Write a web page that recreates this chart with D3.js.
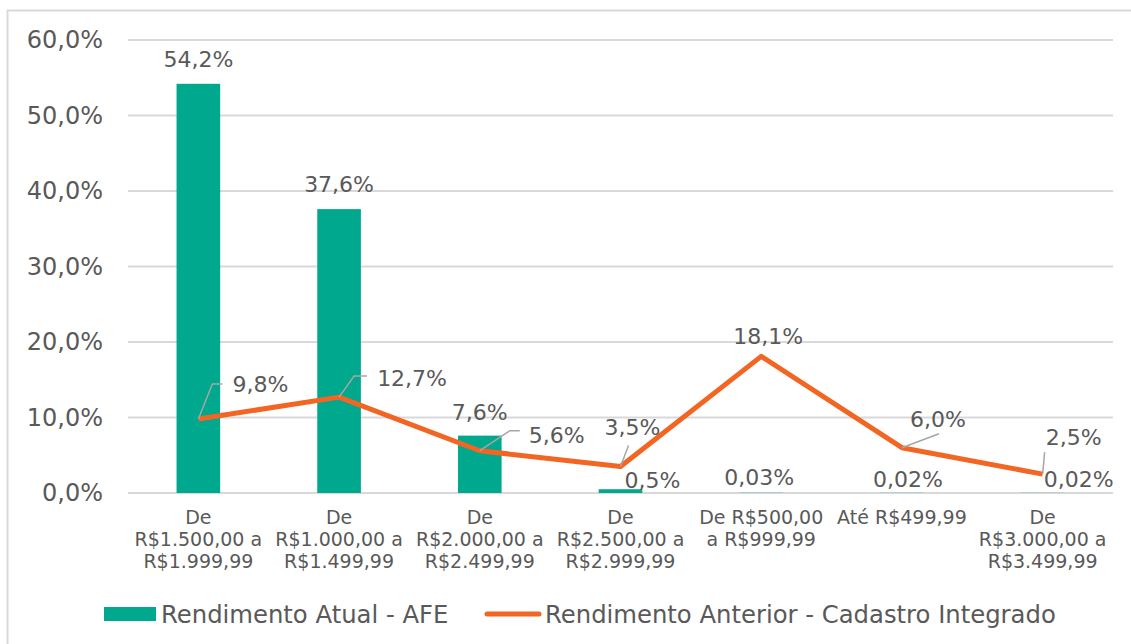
<!DOCTYPE html>
<html>
<head>
<meta charset="utf-8">
<script src="https://cdn.jsdelivr.net/npm/d3@7"></script>
<style>
    body { margin: 0; background: #ffffff; }
    svg text { font-family: "DejaVu Sans", Verdana, sans-serif; fill: #595959; }
</style>
</head>
<body>
<svg id="chart"></svg>
<script>
// chart values
var categories = [
    "De R$1.500,00 a R$1.999,99",
    "De R$1.000,00 a R$1.499,99",
    "De R$2.000,00 a R$2.499,99",
    "De R$2.500,00 a R$2.999,99",
    "De R$500,00 a R$999,99",
    "Até R$499,99",
    "De R$3.000,00 a R$3.499,99"
];
var barValues = [0.542, 0.376, 0.076, 0.005, 0.0003, 0.0002, 0.0002];
var barLabels = ["54,2%", "37,6%", "7,6%", "0,5%", "0,03%", "0,02%", "0,02%"];
var lineValues = [0.098, 0.127, 0.056, 0.035, 0.181, 0.060, 0.025];
var lineLabels = ["9,8%", "12,7%", "5,6%", "3,5%", "18,1%", "6,0%", "2,5%"];
var yTicks = [0, 0.1, 0.2, 0.3, 0.4, 0.5, 0.6];
var seriesNames = ["Rendimento Atual - AFE", "Rendimento Anterior - Cadastro Integrado"];

var options = {
    width: 1131,
    height: 644,
    plotLeft: 128,
    plotRight: 1113,
    plotTop: 40,
    plotBottom: 493,
    green: "#00A88E",
    orange: "#F26522",
    grid: "#D9D9D9"
};

// where the data labels sit, relative to the point (label centre)
var barLabelOffsets = [[0, -25], [0, -25], [0, -24], [32, -9], [-2, -16], [6, -14], [36, -14]];
var lineLabelOffsets = [[62, -35], [73, -19], [77, -16], [12, -39], [7, -20], [36, -29], [31, -37]];
var leaderLines = [
    [[14, -35], [24, -35]],
    [[15, -21], [28, -21]],
    [[30, -20], [40, -20]],
    [[8, -21]],
    null,
    [[37, -14]],
    [[2, -22]]
];

var svg = d3.select("#chart")
    .attr("width", options.width)
    .attr("height", options.height);

// outer chart border
svg.append("rect")
    .attr("x", 7.5).attr("y", 10.5)
    .attr("width", options.width + 10).attr("height", options.height + 10)
    .style("fill", "none")
    .style("stroke", options.grid)
    .style("stroke-width", 2);

var xScale = d3.scaleBand()
    .domain(categories)
    .range([options.plotLeft, options.plotRight])
    .paddingInner(0.69)
    .paddingOuter(0.345);

var yScale = d3.scaleLinear()
    .domain([0, 0.6])
    .range([options.plotBottom, options.plotTop]);

var fmt = function(v) { return d3.format(".1f")(v * 100).replace(".", ",") + "%"; };

// gridlines
svg.append("g").attr("class", "grid")
    .selectAll("line")
    .data(yTicks)
    .enter().append("line")
    .attr("x1", options.plotLeft)
    .attr("x2", options.plotRight)
    .attr("y1", function(d) { return yScale(d); })
    .attr("y2", function(d) { return yScale(d); })
    .style("stroke", options.grid)
    .style("stroke-width", 2);

// y axis labels
var yAxis = d3.axisLeft(yScale).tickValues(yTicks).tickFormat(fmt).tickSize(0).tickPadding(25);
var yG = svg.append("g")
    .attr("class", "y axis")
    .attr("transform", "translate(" + options.plotLeft + ",0)")
    .call(yAxis);
yG.select(".domain").remove();
yG.selectAll("text").style("font-size", "24px").style("fill", "#595959");

// x axis labels
var xAxis = d3.axisBottom(xScale).tickSize(0).tickPadding(18);
var xG = svg.append("g")
    .attr("class", "x axis")
    .attr("transform", "translate(0," + options.plotBottom + ")")
    .call(xAxis);
xG.select(".domain").remove();
xG.selectAll("text").style("font-size", "19px").style("fill", "#595959").call(wrap, 138);

function wrap(texts, width) {
    texts.each(function() {
        var text = d3.select(this),
            words = text.text().split(/\s+/),
            line = [],
            lineNumber = 0,
            y = text.attr("y"),
            tspan = text.text(null).append("tspan").attr("x", 0).attr("y", y).attr("dy", "0.71em");
        words.forEach(function(word) {
            line.push(word);
            tspan.text(line.join(" "));
            if (tspan.node().getComputedTextLength() > width && line.length > 1) {
                line.pop();
                tspan.text(line.join(" "));
                line = [word];
                lineNumber++;
                tspan = text.append("tspan").attr("x", 0).attr("y", y)
                    .attr("dy", (lineNumber * 22 / 19 + 0.71) + "em").text(word);
            }
        });
    });
}

// bars
svg.append("g").selectAll("rect")
    .data(barValues)
    .enter().append("rect")
    .attr("x", function(d, i) { return xScale(categories[i]); })
    .attr("y", function(d) { return yScale(d); })
    .attr("width", xScale.bandwidth())
    .attr("height", function(d) { return options.plotBottom - yScale(d); })
    .style("fill", options.green);

var cx = function(i) { return xScale(categories[i]) + xScale.bandwidth() / 2; };

// line
var line = d3.line()
    .x(function(d, i) { return cx(i); })
    .y(function(d) { return yScale(d); });

svg.append("path")
    .datum(lineValues)
    .attr("d", line)
    .style("fill", "none")
    .style("stroke", options.orange)
    .style("stroke-width", 5)
    .style("stroke-linejoin", "round");

// leader lines for line labels
svg.append("g").selectAll("polyline")
    .data(lineValues)
    .enter()
    .filter(function(d, i) { return leaderLines[i] !== null; })
    .append("polyline")
    .attr("points", function(d) {
        var i = lineValues.indexOf(d);
        var x0 = cx(i), y0 = yScale(d);
        var pts = [[x0, y0]].concat(leaderLines[i].map(function(p) { return [x0 + p[0], y0 + p[1]]; }));
        return pts.map(function(p) { return p.join(","); }).join(" ");
    })
    .style("fill", "none")
    .style("stroke", "#A6A6A6")
    .style("stroke-width", 1.5);

// bar labels
svg.append("g").selectAll("text")
    .data(barValues)
    .enter().append("text")
    .attr("x", function(d, i) { return cx(i) + barLabelOffsets[i][0]; })
    .attr("y", function(d, i) { return yScale(d) + barLabelOffsets[i][1]; })
    .attr("dy", "0.36em")
    .style("text-anchor", "middle")
    .style("font-size", "22px")
    .text(function(d, i) { return barLabels[i]; });

// line labels
svg.append("g").selectAll("text")
    .data(lineValues)
    .enter().append("text")
    .attr("x", function(d, i) { return cx(i) + lineLabelOffsets[i][0]; })
    .attr("y", function(d, i) { return yScale(d) + lineLabelOffsets[i][1]; })
    .attr("dy", "0.36em")
    .style("text-anchor", "middle")
    .style("font-size", "22px")
    .text(function(d, i) { return lineLabels[i]; });

// legend
var legend = svg.append("g").attr("class", "legend");
legend.append("rect")
    .attr("x", 104).attr("y", 607)
    .attr("width", 52).attr("height", 14)
    .style("fill", options.green);
legend.append("text")
    .attr("x", 161).attr("y", 614).attr("dy", "0.36em")
    .style("font-size", "24.3px")
    .text(seriesNames[0]);
legend.append("line")
    .attr("x1", 487).attr("x2", 539)
    .attr("y1", 614).attr("y2", 614)
    .style("stroke", options.orange)
    .style("stroke-width", 5)
    .style("stroke-linecap", "round");
legend.append("text")
    .attr("x", 545).attr("y", 614).attr("dy", "0.36em")
    .style("font-size", "24.3px")
    .text(seriesNames[1]);
</script>
</body>
</html>
